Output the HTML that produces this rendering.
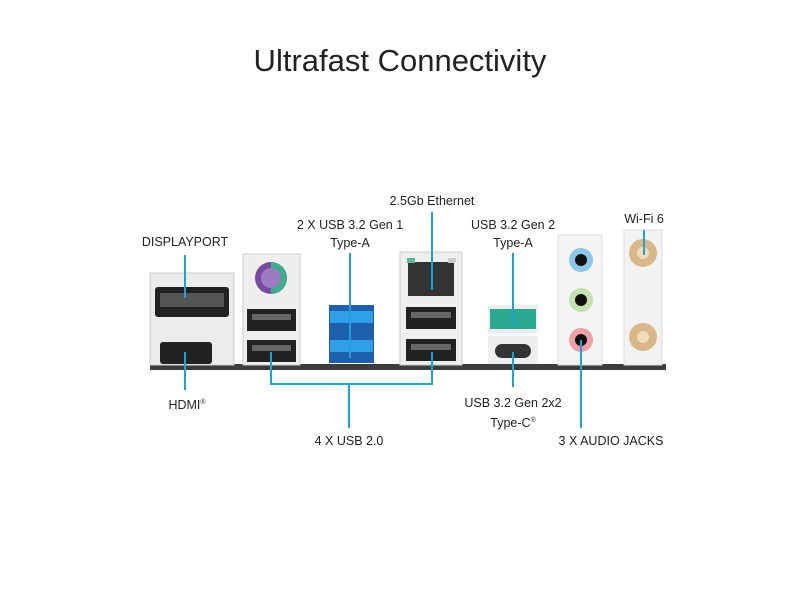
<!DOCTYPE html>
<html><head><meta charset="utf-8"><style>
body{margin:0;width:800px;height:600px;background:#fff;position:relative;overflow:hidden;font-family:"Liberation Sans",sans-serif;color:#222}
.t{position:absolute;font-size:12.5px;text-align:center;line-height:18px;white-space:nowrap;transform:translateX(-50%)}
</style></head><body>
<div class="t" style="left:400px;top:39px;font-size:31px;line-height:44px;color:#222;">Ultrafast Connectivity</div>
<div class="t" style="left:185px;top:233px">DISPLAYPORT</div>
<div class="t" style="left:350px;top:216px">2 X USB 3.2 Gen 1<br>Type-A</div>
<div class="t" style="left:432px;top:192px">2.5Gb Ethernet</div>
<div class="t" style="left:513px;top:216px">USB 3.2 Gen 2<br>Type-A</div>
<div class="t" style="left:644px;top:210px">Wi-Fi 6</div>
<div class="t" style="left:187px;top:394px">HDMI<sup style="font-size:7px">®</sup></div>
<div class="t" style="left:513px;top:394px">USB 3.2 Gen 2x2<br>Type-C<sup style="font-size:7px">®</sup></div>
<div class="t" style="left:349px;top:432px">4 X USB 2.0</div>
<div class="t" style="left:611px;top:432px">3 X AUDIO JACKS</div>
<svg width="800" height="600" style="position:absolute;left:0;top:0">
<rect x="150" y="364" width="516" height="6" fill="#3c3c3c"/>
<rect x="150" y="273" width="84" height="92" fill="#ececec" stroke="#ccc"/>
<rect x="155" y="287" width="74" height="30" rx="3" fill="#222"/>
<rect x="160" y="293" width="64" height="14" fill="#555"/>
<rect x="160" y="342" width="52" height="22" rx="3" fill="#222"/>
<rect x="243" y="254" width="57" height="111" fill="#eee" stroke="#ccc"/>
<circle cx="271" cy="278" r="16" fill="#7a4aa0"/>
<path d="M271 262 A16 16 0 0 1 271 294 Z" fill="#3fae8c"/>
<circle cx="271" cy="278" r="10" fill="#9b7cc2"/>
<rect x="247" y="309" width="49" height="22" fill="#222"/>
<rect x="252" y="314" width="39" height="6" fill="#666"/>
<rect x="247" y="340" width="49" height="22" fill="#222"/>
<rect x="252" y="345" width="39" height="6" fill="#666"/>
<rect x="329" y="305" width="45" height="58" fill="#1e5fb0"/>
<rect x="330" y="311" width="43" height="12" fill="#2fa0e8"/>
<rect x="330" y="340" width="43" height="12" fill="#2fa0e8"/>
<rect x="400" y="252" width="62" height="113" fill="#eee" stroke="#ccc"/>
<rect x="408" y="262" width="46" height="34" fill="#333"/>
<rect x="407" y="258" width="8" height="5" fill="#5cb89a"/>
<rect x="448" y="258" width="8" height="5" fill="#ccc"/>
<rect x="406" y="307" width="50" height="22" fill="#222"/>
<rect x="411" y="312" width="40" height="6" fill="#666"/>
<rect x="406" y="339" width="50" height="22" fill="#222"/>
<rect x="411" y="344" width="40" height="6" fill="#666"/>
<rect x="488" y="305" width="50" height="28" fill="#eee"/>
<rect x="490" y="309" width="46" height="20" fill="#2aa890"/>
<rect x="488" y="336" width="50" height="28" fill="#eee"/>
<rect x="495" y="344" width="36" height="14" rx="7" fill="#333"/>
<rect x="558" y="235" width="44" height="130" fill="#f4f4f4" stroke="#ddd"/>
<circle cx="581" cy="260" r="12" fill="#8cc8ea"/><circle cx="581" cy="260" r="6" fill="#111"/>
<circle cx="581" cy="300" r="12" fill="#c6e0b0"/><circle cx="581" cy="300" r="6" fill="#111"/>
<circle cx="581" cy="340" r="12" fill="#efa0a8"/><circle cx="581" cy="340" r="6" fill="#111"/>
<rect x="624" y="230" width="38" height="135" fill="#f2f2f2" stroke="#ddd"/>
<circle cx="643" cy="253" r="14" fill="#d8b888"/><circle cx="643" cy="253" r="6" fill="#f0dcb8"/>
<circle cx="643" cy="337" r="14" fill="#d8b888"/><circle cx="643" cy="337" r="6" fill="#f0dcb8"/>
<g stroke="#1ea0d8" stroke-width="2" fill="none">
<path d="M185 255V298"/>
<path d="M185 352V390"/>
<path d="M350 253V358"/>
<path d="M432 212V290"/>
<path d="M513 253V325"/>
<path d="M644 230V255"/>
<path d="M271 352V384H432V352"/>
<path d="M349 384V428"/>
<path d="M513 352V387"/>
<path d="M581 340V428"/>
</g>
</svg>
</body></html>
